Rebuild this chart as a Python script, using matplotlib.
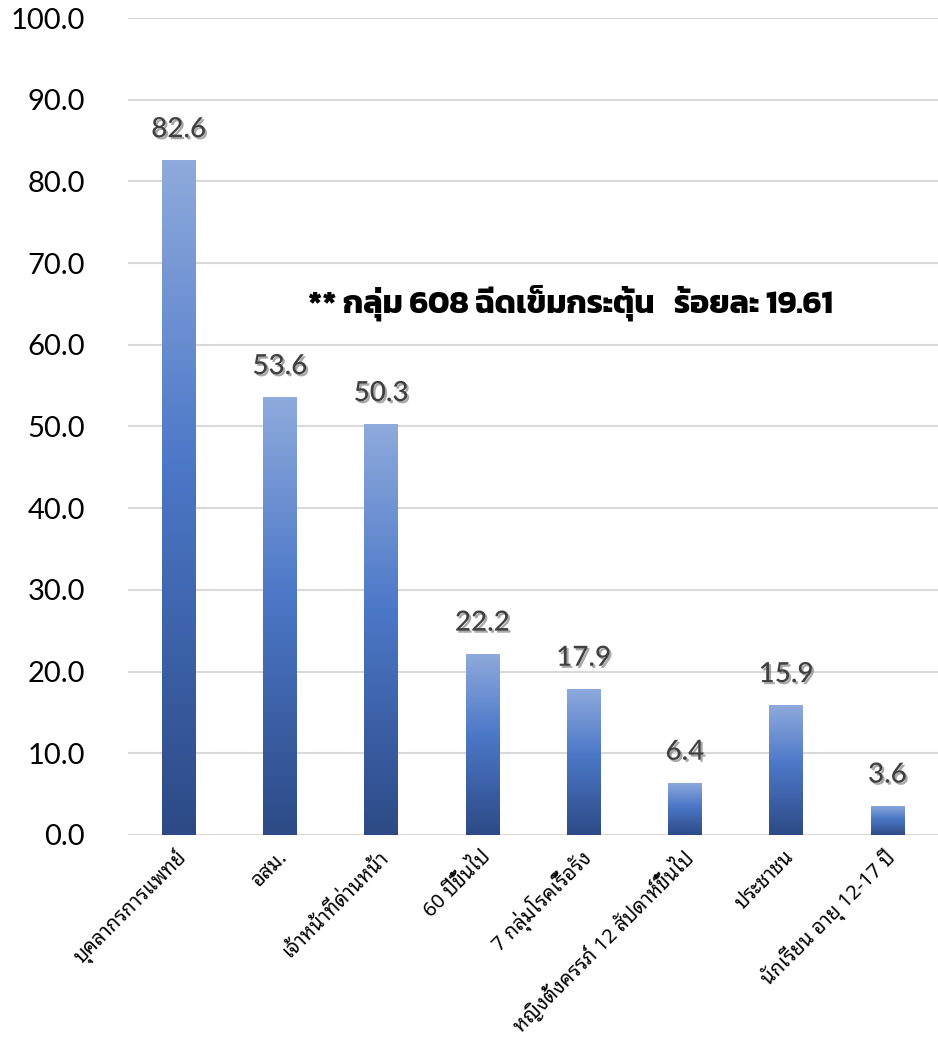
import numpy as np
import matplotlib
matplotlib.use('Agg')
import matplotlib.pyplot as plt
import matplotlib.patheffects as pe
import matplotlib.transforms as mtransforms
from matplotlib.colors import LinearSegmentedColormap

categories = ['บุคลากรการแพทย์', 'อสม.', 'เจ้าหน้าที่ด่านหน้า', '60 ปีขึ้นไป',
              '7 กลุ่มโรคเรื้อรัง', 'หญิงตั้งครรภ์ 12 สัปดาห์ขึ้นไป', 'ประชาชน',
              'นักเรียน อายุ 12-17 ปี']
values = [82.6, 53.6, 50.3, 22.2, 17.9, 6.4, 15.9, 3.6]
yticks = [0, 10, 20, 30, 40, 50, 60, 70, 80, 90, 100]
note = '** กลุ่ม 608 ฉีดเข็มกระตุ้น   ร้อยละ 19.61'

NUM_FONT = ['Lato', 'DejaVu Sans']
THAI_FONT = ['Noto Sans Thai Looped', 'DejaVu Sans']
NOTE_FONT = ['Kanit', 'DejaVu Sans']

# light top -> blue middle -> dark bottom (image row 0 = bottom)
grad_cmap = LinearSegmentedColormap.from_list(
    'bar', [(0.0, '#2d4a86'), (0.55, '#4c78c8'), (1.0, '#8faadc')])

fig = plt.figure(figsize=(9.38, 10.41), dpi=100)
ax = fig.add_axes([0.1365, 0.1979, 0.8635, 0.7848])

x = np.arange(len(categories))
bars = ax.bar(x, values, width=0.33, facecolor='none', edgecolor='none', zorder=3)
grad = np.linspace(0, 1, 256).reshape(-1, 1)
for b in bars:
    x0, w, h = b.get_x(), b.get_width(), b.get_height()
    im = ax.imshow(grad, extent=[x0, x0 + w, 0, h], origin='lower',
                   aspect='auto', cmap=grad_cmap, zorder=3)
    im.set_clip_path(b)

for xi, v in zip(x, values):
    ax.text(xi, v + 2.2, f'{v:.1f}', ha='center', va='bottom', fontsize=20,
            fontweight='medium', color='#404040', family=NUM_FONT, zorder=5,
            path_effects=[pe.withSimplePatchShadow(offset=(1.5, -1.5),
                                                   shadow_rgbFace='#6f6f6f', alpha=0.6)])

ax.text(3.87, 65.1, note, ha='center', va='center', fontsize=23,
        fontweight='bold', family=NOTE_FONT, color='black', zorder=5)

ax.set_xlim(-0.5, len(categories) - 0.5)
ax.set_ylim(0, 100)
ax.set_yticks(yticks)
ax.set_yticklabels([f'{t:.1f}' for t in yticks], fontsize=21, family=NUM_FONT)
ax.set_xticks(x)
ax.set_xticklabels(categories, rotation=45, ha='right', va='center',
                   rotation_mode='anchor', fontsize=14.5, family=THAI_FONT)
ax.tick_params(axis='both', length=0)
ax.tick_params(axis='y', pad=31)
ax.tick_params(axis='x', pad=14)
shift = mtransforms.ScaledTranslation(5 / 100, 0, fig.dpi_scale_trans)
for lbl in ax.get_xticklabels():
    lbl.set_transform(lbl.get_transform() + shift)
ax.yaxis.grid(True, color='#d9d9d9', linewidth=1.5, zorder=0)
ax.set_axisbelow(True)
for s in ax.spines.values():
    s.set_visible(False)

fig.savefig('out.png', dpi=100)
